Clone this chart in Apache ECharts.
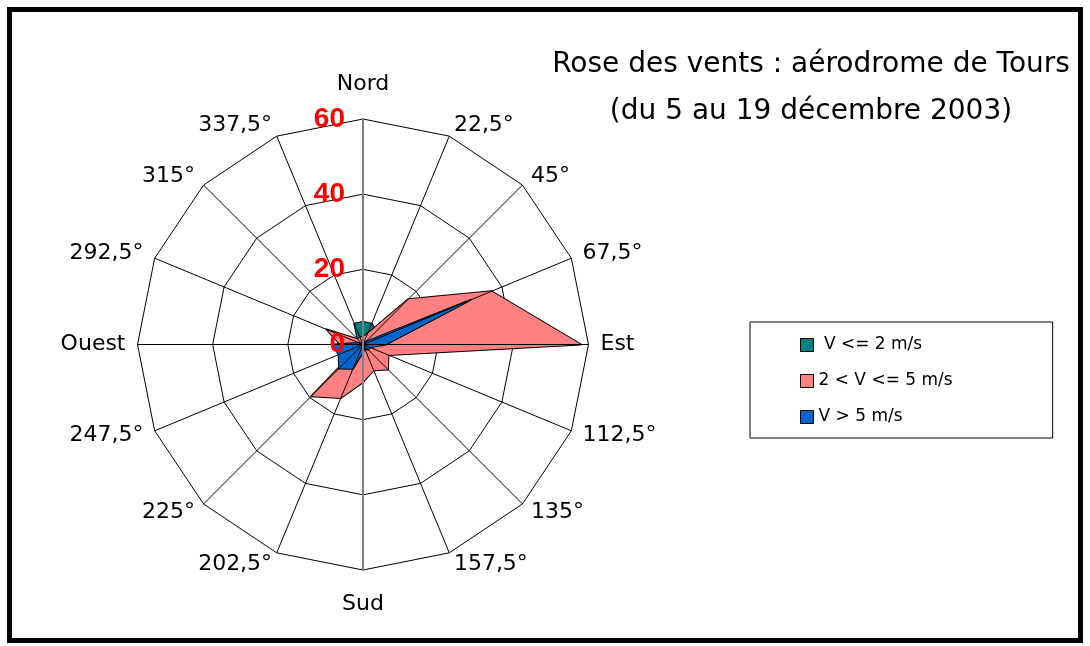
<!DOCTYPE html>
<html>
<head>
<meta charset="utf-8">
<title>Rose des vents</title>
<script src="https://cdn.jsdelivr.net/npm/echarts@6/dist/echarts.min.js"></script>
<style>
html, body { margin: 0; padding: 0; background: #fff; }
#main { width: 1090px; height: 646px; }
</style>
</head>
<body>
<div id="main"></div>
<script>
// directions, clockwise from north
var directions = ['Nord', '22,5°', '45°', '67,5°', 'Est', '112,5°', '135°', '157,5°',
  'Sud', '202,5°', '225°', '247,5°', 'Ouest', '292,5°', '315°', '337,5°'];
var seriesNames = [' V <= 2 m/s', '2 < V <= 5 m/s', 'V > 5 m/s'];
// frequencies per direction
var ventFaible = [6, 6, 5, 3, 2, 1, 1, 1, 1, 1, 1, 1, 2, 2, 2, 6];
var ventMoyen = [2, 3, 17, 37, 58, 7.3, 9.4, 7.4, 10, 15.4, 19.5, 1, 6, 10.5, 2, 2];
var ventFort = [0, 0, 1, 31, 6, 2, 2, 1, 2, 7, 9, 7, 8, 1, 0, 0];
var radialTicks = [0, 20, 40, 60];
var colors = ['#008080', '#ff8080', '#0066cc'];

var FONT = 'DejaVu Sans';
var CX = 363, CY = 344.5, R = 225.5;

// radar lays indicators out counter-clockwise, so flip the order
function ccw(arr) {
  return [arr[0]].concat(arr.slice(1).reverse());
}

var myChart = echarts.init(document.getElementById('main'));

var seriesData = [ventFaible, ventMoyen, ventFort];
var series = [];
for (var i = 0; i < seriesData.length; i++) {
  series.push({
    type: 'radar',
    name: seriesNames[i],
    symbol: 'none',
    lineStyle: { color: '#000', width: 2 },
    itemStyle: { color: colors[i] },
    areaStyle: { color: colors[i], opacity: 1 },
    data: [{ name: seriesNames[i], value: ccw(seriesData[i]) }]
  });
}

var tickMax = radialTicks[radialTicks.length - 1];

// spokes: grey for the north/south axis, black elsewhere
var spokeColors = directions.map(function (d, k) {
  return (k === 0 || k === 8) ? '#808080' : '#000';
});

myChart.setOption({
  backgroundColor: '#fff',
  animation: false,
  graphic: [
    {
      type: 'rect',
      shape: { x: 9.5, y: 9.5, width: 1071, height: 631 },
      style: { fill: 'none', stroke: '#000', lineWidth: 5 }
    },
    {
      type: 'text', x: 811, y: 65,
      style: { text: 'Rose des vents : aérodrome de Tours', fill: '#000', font: '28px "DejaVu Sans"', textAlign: 'center', textVerticalAlign: 'middle' }
    },
    {
      type: 'text', x: 811, y: 112,
      style: { text: '(du 5 au 19 décembre 2003)', fill: '#000', font: '28px "DejaVu Sans"', textAlign: 'center', textVerticalAlign: 'middle' }
    }
  ],
  legend: {
    orient: 'vertical',
    left: 750,
    top: 322,
    padding: [14, 100, 12, 50],
    itemGap: 18,
    itemWidth: 13,
    itemHeight: 13,
    icon: 'rect',
    borderColor: '#000',
    borderWidth: 1,
    backgroundColor: '#fff',
    itemStyle: { borderColor: '#000', borderWidth: 1 },
    textStyle: { color: '#000', fontSize: 17, lineHeight: 18, fontFamily: FONT },
    data: seriesNames
  },
  radar: {
    center: [CX, CY],
    radius: R,
    startAngle: 90,
    shape: 'polygon',
    splitNumber: radialTicks.length - 1,
    nameGap: 12,
    axisName: {
      color: '#000',
      fontSize: 22,
      fontFamily: FONT,
      formatter: function (name) {
        if (name === 'Nord') return '{n|' + name + '}';
        if (name === 'Sud') return '{s|' + name + '}';
        return name;
      },
      rich: {
        n: { fontSize: 22, fontFamily: FONT, color: '#000', padding: [0, 0, 12, 0] },
        s: { fontSize: 22, fontFamily: FONT, color: '#000', padding: [11, 0, 0, 0] }
      }
    },
    splitLine: { lineStyle: { color: '#000', width: 1 } },
    splitArea: { show: false },
    axisLine: { show: false },
    axisLabel: { show: false },
    indicator: ccw(directions).map(function (d) {
      return { name: d, min: 0, max: tickMax };
    })
  },
  // polar overlay: spokes and value axis drawn above the filled areas
  polar: [
    { center: [CX, CY], radius: R },
    { center: [CX, CY], radius: R }
  ],
  angleAxis: [
    {
      polarIndex: 0,
      type: 'value',
      min: 0,
      max: 360,
      interval: 22.5,
      startAngle: 90,
      clockwise: true,
      axisLine: { show: false },
      axisTick: { show: false },
      axisLabel: { show: false },
      splitLine: { show: true, lineStyle: { color: spokeColors, width: 1 } },
      z: 8
    },
    {
      polarIndex: 1,
      type: 'value',
      min: 0,
      max: 360,
      startAngle: 270,
      axisLine: { show: false },
      axisTick: { show: false },
      axisLabel: { show: false },
      splitLine: { show: false },
      z: 8
    }
  ],
  radiusAxis: [
    {
      polarIndex: 0,
      type: 'value',
      min: radialTicks[0],
      max: tickMax,
      interval: radialTicks[1] - radialTicks[0],
      axisLine: { show: true, lineStyle: { color: '#808080', width: 2 } },
      axisTick: { show: false },
      splitLine: { show: false },
      axisLabel: { color: '#ff0000', fontSize: 28, fontWeight: 'bold', fontFamily: 'Liberation Sans', margin: 18 },
      z: 20
    },
    {
      polarIndex: 1,
      type: 'value',
      min: radialTicks[0],
      max: tickMax,
      axisLine: { show: true, lineStyle: { color: '#808080', width: 2 } },
      axisTick: { show: false },
      splitLine: { show: false },
      axisLabel: { show: false },
      z: 20
    }
  ],
  series: series
});

window.addEventListener('resize', function () {
  myChart.resize();
});
</script>
</body>
</html>
